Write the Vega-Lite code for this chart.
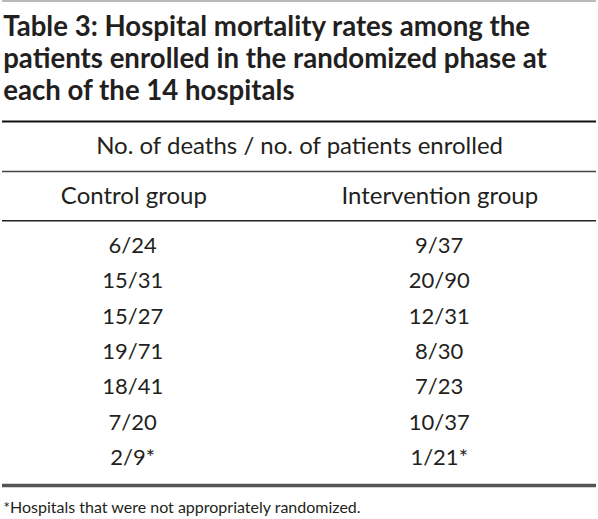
{
  "$schema": "https://vega.github.io/schema/vega-lite/v6.json",
  "width": 598,
  "height": 519,
  "autosize": {"type": "fit", "contains": "padding"},
  "padding": 0,
  "background": "white",
  "config": {"view": {"stroke": null}, "text": {"font": "Lato", "color": "#231f20"}},
  "data": {"values": [
    {"hospital": 1, "control": "6/24", "intervention": "9/37"},
    {"hospital": 2, "control": "15/31", "intervention": "20/90"},
    {"hospital": 3, "control": "15/27", "intervention": "12/31"},
    {"hospital": 4, "control": "19/71", "intervention": "8/30"},
    {"hospital": 5, "control": "18/41", "intervention": "7/23"},
    {"hospital": 6, "control": "7/20", "intervention": "10/37"},
    {"hospital": 7, "control": "2/9*", "intervention": "1/21*"}
  ]},
  "layer": [
    {"data": {"values": [{}]}, "mark": {"type": "rule", "stroke": "#777", "strokeWidth": 1.2},
     "encoding": {"y": {"datum": -6.133, "type": "quantitative", "scale": {"domain": [-6.161, 8.528], "reverse": true, "nice": false, "zero": false}, "axis": null}}},
    {"data": {"values": [{}]}, "mark": {"type": "rule", "stroke": "#111", "strokeWidth": 2},
     "encoding": {"y": {"datum": -2.722, "type": "quantitative"}}},
    {"data": {"values": [{}]}, "mark": {"type": "rule", "stroke": "#444", "strokeWidth": 1.4},
     "encoding": {"y": {"datum": -1.307, "type": "quantitative"}}},
    {"data": {"values": [{}]}, "mark": {"type": "rule", "stroke": "#222", "strokeWidth": 1.6},
     "encoding": {"y": {"datum": 0.086, "type": "quantitative"}}},
    {"data": {"values": [{}]}, "mark": {"type": "rule", "stroke": "#555", "strokeWidth": 3.5},
     "encoding": {"y": {"datum": 7.581, "type": "quantitative"}}},
    {"data": {"values": [{}]},
     "mark": {"type": "text", "align": "left", "baseline": "alphabetic", "fontSize": 27.6, "fontWeight": "bold", "lineHeight": 32,
              "text": ["Table 3: Hospital mortality rates among the", "patients enrolled in the randomized phase at", "each of the 14 hospitals"]},
     "encoding": {"x": {"datum": 0.2, "type": "quantitative", "scale": {"domain": [0, 100], "nice": false, "zero": false}, "axis": null},
                  "y": {"datum": -5.142, "type": "quantitative"}}},
    {"data": {"values": [{}]},
     "mark": {"type": "text", "align": "center", "baseline": "alphabetic", "fontSize": 24, "text": "No. of deaths / no. of patients enrolled"},
     "encoding": {"x": {"datum": 50.1, "type": "quantitative"}, "y": {"datum": -1.802, "type": "quantitative"}}},
    {"data": {"values": [{}]},
     "mark": {"type": "text", "align": "center", "baseline": "alphabetic", "fontSize": 24, "text": "Control group"},
     "encoding": {"x": {"datum": 22.2, "type": "quantitative"}, "y": {"datum": -0.387, "type": "quantitative"}}},
    {"data": {"values": [{}]},
     "mark": {"type": "text", "align": "center", "baseline": "alphabetic", "fontSize": 24, "text": "Intervention group"},
     "encoding": {"x": {"datum": 73.7, "type": "quantitative"}, "y": {"datum": -0.387, "type": "quantitative"}}},
    {"mark": {"type": "text", "align": "center", "baseline": "alphabetic", "fontSize": 22},
     "encoding": {"x": {"datum": 22.0, "type": "quantitative"}, "y": {"field": "hospital", "type": "quantitative"}, "text": {"field": "control", "type": "nominal"}}},
    {"mark": {"type": "text", "align": "center", "baseline": "alphabetic", "fontSize": 22},
     "encoding": {"x": {"datum": 73.6, "type": "quantitative"}, "y": {"field": "hospital", "type": "quantitative"}, "text": {"field": "intervention", "type": "nominal"}}},
    {"data": {"values": [{}]},
     "mark": {"type": "text", "align": "left", "baseline": "alphabetic", "fontSize": 16, "text": "*Hospitals that were not appropriately randomized."},
     "encoding": {"x": {"datum": 0.2, "type": "quantitative"}, "y": {"datum": 8.359, "type": "quantitative"}}}
  ]
}
